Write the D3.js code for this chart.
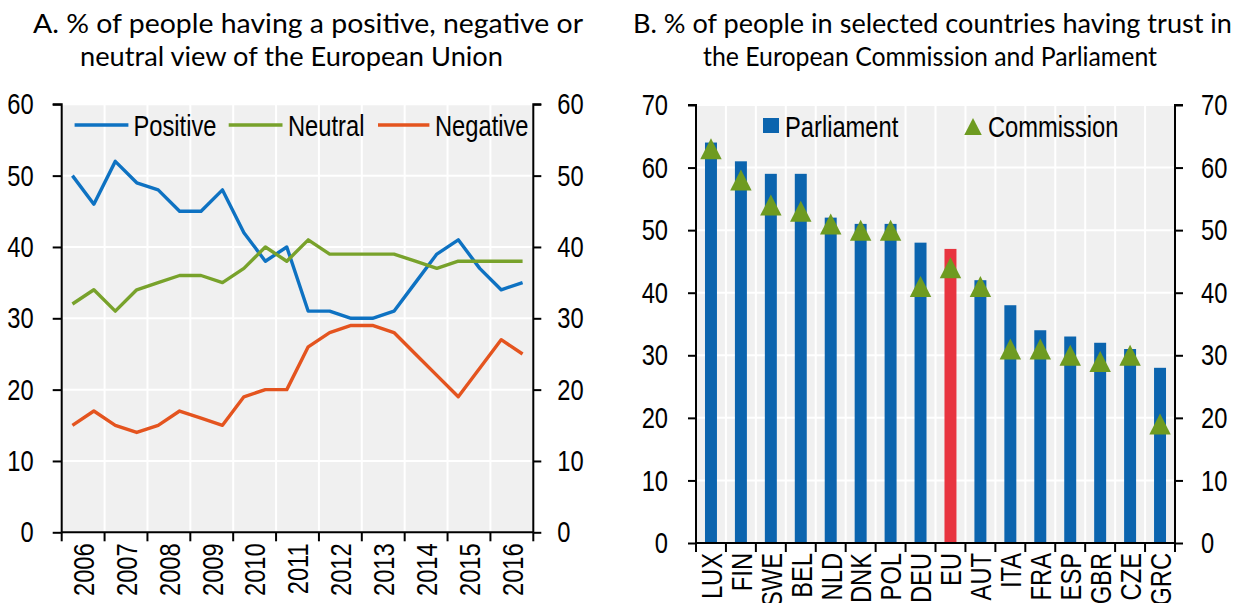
<!DOCTYPE html>
<html><head><meta charset="utf-8">
<script src="https://cdn.jsdelivr.net/npm/d3@7"></script>
<style>
html,body{margin:0;padding:0;background:#fff;}
svg text{font-family:"Liberation Sans",Arial,sans-serif;fill:#000;}
svg text.title{font-family:Lato,"Open Sans","Noto Sans",sans-serif;}
</style></head>
<body>
<svg id="chart" width="1242" height="603"></svg>
<script>
// ---------- Panel A data ----------
const waves = ["2006S","2006A","2007S","2007A","2008S","2008A","2009S","2009A","2010S","2010A","2011S","2011A","2012S","2012A","2013S","2013A","2014S","2014A","2015S","2015A","2016S","2016A"];
const years = ["2006","2007","2008","2009","2010","2011","2012","2013","2014","2015","2016"];
const positive = [50,46,52,49,48,45,45,48,42,38,40,31,31,30,30,31,35,39,41,37,34,35];
const neutral  = [32,34,31,34,35,36,36,35,37,40,38,41,39,39,39,39,38,37,38,38,38,38];
const negative = [15,17,15,14,15,17,16,15,19,20,20,26,28,29,29,28,25,22,19,23,27,25];
const seriesNamesA = ["Positive","Neutral","Negative"];
const ticksA = [0,10,20,30,40,50,60];

// ---------- Panel B data ----------
const countries = ["LUX","FIN","SWE","BEL","NLD","DNK","POL","DEU","EU","AUT","ITA","FRA","ESP","GBR","CZE","GRC"];
const parliament = [64,61,59,59,52,51,51,48,47,42,38,34,33,32,31,28];
const commission = [63,58,54,53,51,50,50,41,44,41,31,31,30,29,30,19];
const seriesNamesB = ["Parliament","Commission"];
const ticksB = [0,10,20,30,40,50,60,70];

const titleA = ["A. % of people having a positive, negative or","neutral view of the European Union"];
const titleB = ["B. % of people in selected countries having trust in","the European Commission and Parliament"];

// ---------- styles ----------
const colPos="#0E72C2", colNeu="#78A22B", colNeg="#E4541F";
const colBar="#0B64AE", colEU="#E8343F", colTri="#6E9B21";
const bg="#F0F0F0";
const FS=30;

const svg=d3.select("#chart");

function title(lines,xs,widths){
  lines.forEach((t,i)=>{
    svg.append("text").attr("class","title").attr("x",xs[i]).attr("y",33+i*33)
      .attr("text-anchor","start").attr("font-size",26.5)
      .attr("textLength",widths[i]).attr("lengthAdjust","spacingAndGlyphs").text(t);
  });
}
title(titleA,[33,80],[550,423]);
title(titleB,[633,703],[599,454]);

// ================= Panel A =================
const A={l:61.7,r:533.3,t:104.3,b:532.3};
const yA=d3.scaleLinear().domain([0,60]).range([A.b,A.t]);
const xYear=d3.scaleBand().domain(years).range([A.l,A.r]).padding(0);
const xWave=d3.scaleBand().domain(waves).range([A.l,A.r]).padding(0);
const gA=svg.append("g");
gA.append("rect").attr("x",A.l).attr("y",A.t).attr("width",A.r-A.l).attr("height",A.b-A.t).attr("fill",bg);
gA.selectAll("line.hg").data(ticksA.slice(1)).join("line")
  .attr("x1",A.l).attr("x2",A.r).attr("y1",d=>yA(d)).attr("y2",d=>yA(d))
  .attr("stroke","#fff").attr("stroke-width",2);
gA.selectAll("line.vg").data(years.slice(1)).join("line")
  .attr("x1",d=>xYear(d)).attr("x2",d=>xYear(d)).attr("y1",A.t).attr("y2",A.b)
  .attr("stroke","#fff").attr("stroke-width",2);
const lineA=d3.line().x((d,i)=>xWave(waves[i])+xWave.bandwidth()/2).y(d=>yA(d));
[[positive,colPos],[neutral,colNeu],[negative,colNeg]].forEach(([s,c])=>{
  gA.append("path").datum(s).attr("d",lineA).attr("fill","none").attr("stroke",c)
    .attr("stroke-width",3.4).attr("stroke-linejoin","round");
});
function styleAxis(g){
  g.select(".domain").attr("stroke","#000").attr("stroke-width",2);
  g.selectAll(".tick line").attr("stroke","#000").attr("stroke-width",2);
  g.selectAll("text").attr("font-size",FS);
  g.attr("font-family",null).attr("font-size",null);
}
gA.append("g").attr("transform",`translate(${A.l},0)`).call(d3.axisLeft(yA).tickValues(ticksA).tickSize(9).tickPadding(19)).call(styleAxis)
  .call(g=>g.select(".domain").attr("d",`M-9,${A.t}H0V${A.b}`));
gA.append("g").attr("transform",`translate(${A.r},0)`).call(d3.axisRight(yA).tickValues(ticksA).tickSize(8).tickPadding(16)).call(styleAxis)
  .call(g=>g.select(".domain").attr("d",`M8,${A.t}H0V${A.b}`));
const xAxA=d3.scaleLinear().domain([0,years.length]).range([A.l,A.r]);
const gxA=gA.append("g").attr("transform",`translate(0,${A.b})`);
gxA.append("line").attr("x1",A.l).attr("x2",A.r).attr("stroke","#000").attr("stroke-width",2);
gxA.selectAll("line.t").data(d3.range(years.length+1)).join("line")
  .attr("x1",d=>xAxA(d)).attr("x2",d=>xAxA(d)).attr("y1",0).attr("y2",9).attr("stroke","#000").attr("stroke-width",2);
gxA.selectAll("text").data(years).join("text")
  .attr("transform",d=>`translate(${xYear(d)+xYear.bandwidth()/2},11) rotate(-90)`)
  .attr("text-anchor","end").attr("dy","0.36em").attr("font-size",FS).text(d=>d);
const legA=[{n:seriesNamesA[0],c:colPos,x1:74.6,x2:128.4,tx:133.5},
            {n:seriesNamesA[1],c:colNeu,x1:228.7,x2:282.5,tx:288},
            {n:seriesNamesA[2],c:colNeg,x1:378,x2:429.4,tx:435}];
legA.forEach(d=>{
  gA.append("line").attr("x1",d.x1).attr("x2",d.x2).attr("y1",125).attr("y2",125).attr("stroke",d.c).attr("stroke-width",3.4);
  gA.append("text").attr("x",d.tx).attr("y",125).attr("dy","0.36em").attr("font-size",FS).text(d.n);
});

// ================= Panel B =================
const B={l:696,r:1175,t:105,b:543};
const yB=d3.scaleLinear().domain([0,70]).range([B.b,B.t]);
const xB=d3.scaleBand().domain(countries).range([B.l,B.r]).paddingInner(0.6).paddingOuter(0.3);
const step=xB.step();
const gB=svg.append("g");
gB.append("rect").attr("x",B.l).attr("y",B.t).attr("width",B.r-B.l).attr("height",B.b-B.t).attr("fill",bg);
gB.selectAll("line.hg").data(ticksB.slice(1)).join("line")
  .attr("x1",B.l).attr("x2",B.r).attr("y1",d=>yB(d)).attr("y2",d=>yB(d))
  .attr("stroke","#fff").attr("stroke-width",2);
gB.selectAll("line.vg").data(countries.slice(1)).join("line")
  .attr("x1",d=>xB(d)-step*0.3).attr("x2",d=>xB(d)-step*0.3).attr("y1",B.t).attr("y2",B.b)
  .attr("stroke","#fff").attr("stroke-width",2);
gB.selectAll("rect.bar").data(countries).join("rect").attr("class","bar")
  .attr("x",d=>xB(d)).attr("width",xB.bandwidth())
  .attr("y",(d,i)=>yB(parliament[i])).attr("height",(d,i)=>yB(0)-yB(parliament[i]))
  .attr("fill",d=>d==="EU"?colEU:colBar);
function tri(w,h){return `M0,${-h/2}L${w/2},${h/2}L${-w/2},${h/2}Z`;}
gB.selectAll("path.tri").data(countries).join("path").attr("class","tri")
  .attr("d",tri(21.5,21))
  .attr("transform",(d,i)=>`translate(${xB(d)+xB.bandwidth()/2},${yB(commission[i])})`)
  .attr("fill",colTri);
gB.append("g").attr("transform",`translate(${B.l},0)`).call(d3.axisLeft(yB).tickValues(ticksB).tickSize(8).tickPadding(20)).call(styleAxis)
  .call(g=>g.select(".domain").attr("d",`M-8,${B.t}H0V${B.b}`));
gB.append("g").attr("transform",`translate(${B.r},0)`).call(d3.axisRight(yB).tickValues(ticksB).tickSize(8).tickPadding(18)).call(styleAxis)
  .call(g=>g.select(".domain").attr("d",`M8,${B.t}H0V${B.b}`));
const gxB=gB.append("g").attr("transform",`translate(0,${B.b})`);
gxB.append("line").attr("x1",B.l).attr("x2",B.r).attr("stroke","#000").attr("stroke-width",2);
gxB.selectAll("line.t").data(d3.range(countries.length+1)).join("line")
  .attr("x1",d=>B.l+d*step).attr("x2",d=>B.l+d*step).attr("y1",0).attr("y2",9).attr("stroke","#000").attr("stroke-width",2);
gxB.selectAll("text").data(countries).join("text")
  .attr("transform",d=>`translate(${xB(d)+xB.bandwidth()/2},10) rotate(-90)`)
  .attr("text-anchor","end").attr("dy","0.36em").attr("font-size",FS).text(d=>d);
gB.append("rect").attr("x",763).attr("y",118).attr("width",16).attr("height",15).attr("fill",colBar);
gB.append("text").attr("x",785).attr("y",126).attr("dy","0.36em").attr("font-size",FS).text(seriesNamesB[0]);
gB.append("path").attr("d",tri(17.5,17)).attr("transform","translate(973,126.5)").attr("fill",colTri);
gB.append("text").attr("x",988).attr("y",126).attr("dy","0.36em").attr("font-size",FS).text(seriesNamesB[1]);

// narrow (condensed) rendering of the Arial-like text
svg.selectAll("text:not(.title)").each(function(){
  const len=this.getComputedTextLength();
  d3.select(this).attr("textLength",len*0.79).attr("lengthAdjust","spacingAndGlyphs");
});
</script>
</body></html>
